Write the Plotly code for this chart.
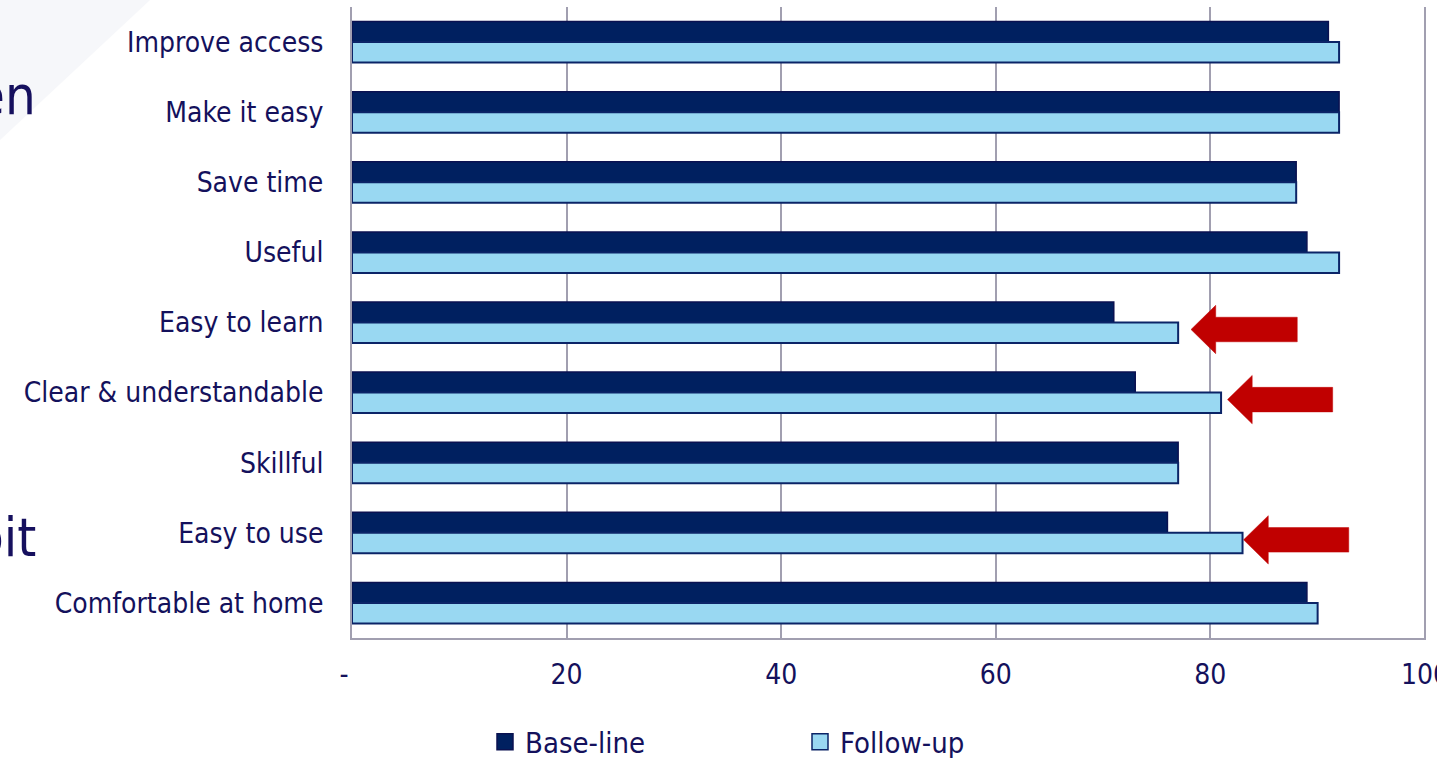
import plotly.graph_objects as go

# ---------------- data ----------------
categories = ["Improve access", "Make it easy", "Save time", "Useful", "Easy to learn",
              "Clear & understandable", "Skillful", "Easy to use", "Comfortable at home"]
baseline = [91, 92, 88, 89, 71, 73, 77, 76, 89]
followup = [92, 92, 88, 92, 77, 81, 77, 83, 90]
series_names = ["Base-line", "Follow-up"]
x_tick_values = [0, 20, 40, 60, 80, 100]
x_tick_labels = ["-", "20", "40", "60", "80", "100"]

# highlight arrows (value-axis extents)
arrow_categories = ["Easy to learn", "Clear & understandable", "Easy to use"]
arrow_tip = [78.2, 81.6, 83.1]
arrow_tail = [88.1, 91.4, 92.9]

# background slide text fragments
bg_texts = ["en", "bit"]

# ---------------- style ----------------
FONT = "DejaVu Sans Condensed, DejaVu Sans, Liberation Sans, sans-serif"
TXT = "#14115C"
GRID = "#A19FB0"
C_BASE = "#002060"
C_FOLLOW = "#99D8F2"
LINE_BASE = "#0A1150"
LINE_FOLLOW = "#0B2467"

W, H = 1437, 758
L, R, T, B = 352, 11, 7, 120
PW, PH = W - L - R, H - T - B


def px_to_paper_x(px):
    return (px - L) / PW


def px_to_paper_y(py):
    return (H - B - py) / PH


ypos = list(range(len(categories)))

fig = go.Figure()
for name, vals, fill, edge, ew in [(series_names[0], baseline, C_BASE, LINE_BASE, 1.5),
                                   (series_names[1], followup, C_FOLLOW, LINE_FOLLOW, 2)]:
    fig.add_trace(go.Bar(
        y=ypos, x=vals, orientation="h", name=name, legendgroup=name, showlegend=False,
        marker=dict(color=fill, line=dict(color=edge, width=ew)),
    ))
    # legend entry with a larger square swatch
    fig.add_trace(go.Scatter(
        x=[None], y=[None], mode="markers", name=name, legendgroup=name,
        marker=dict(symbol="square", size=18, color=fill, line=dict(color=edge, width=1.5)),
        hoverinfo="skip",
    ))

# arrows
shapes = []
head_len, head_half, shaft_half, dy = 2.3, 0.345, 0.175, 0.1
for cat, xt, xe in zip(arrow_categories, arrow_tip, arrow_tail):
    yc = categories.index(cat) + dy
    xh = xt + head_len
    path = (f"M {xt},{yc} L {xh},{yc - head_half} L {xh},{yc - shaft_half} "
            f"L {xe},{yc - shaft_half} L {xe},{yc + shaft_half} L {xh},{yc + shaft_half} "
            f"L {xh},{yc + head_half} Z")
    shapes.append(dict(type="path", xref="x", yref="y", path=path,
                       fillcolor="#C00000", line=dict(color="#C00000", width=0.5)))

# faint slide background gradient at top-left
bx = [px_to_paper_x(v) for v in (0, 150, 0)]
by = [px_to_paper_y(v) for v in (0, 0, 140)]
shapes.append(dict(type="path", xref="paper", yref="paper", layer="below",
                   path=f"M {bx[0]},{by[0]} L {bx[1]},{by[1]} L {bx[2]},{by[2]} Z",
                   fillcolor="#F6F7FA", line=dict(width=0)))

annotations = []
for txt, py in zip(bg_texts, (95, 537)):
    annotations.append(dict(text=txt, xref="paper", yref="paper",
                            x=px_to_paper_x(38), y=px_to_paper_y(py),
                            xanchor="right", yanchor="middle", showarrow=False,
                            font=dict(family=FONT, size=54, color="#16105E")))

tick_text = [t if t != "-" else t + "\u00a0\u00a0" for t in x_tick_labels]

fig.update_layout(
    width=W, height=H,
    margin=dict(l=L, r=R, t=T, b=B, autoexpand=False),
    paper_bgcolor="white", plot_bgcolor="white",
    barmode="group", bargap=0.415, bargroupgap=0,
    font=dict(family=FONT, size=28, color=TXT),
    shapes=shapes, annotations=annotations,
    legend=dict(orientation="h", xref="container", yref="container",
                x=485 / W, y=(H - 742) / H, xanchor="left", yanchor="middle",
                entrywidth=270, entrywidthmode="pixels",
                font=dict(family=FONT, size=29, color=TXT),
                bgcolor="rgba(0,0,0,0)", traceorder="normal", itemsizing="trace"),
    xaxis=dict(range=[0, 100.1], tickvals=x_tick_values, ticktext=tick_text,
               showgrid=True, gridcolor=GRID, gridwidth=2,
               showline=True, linecolor=GRID, linewidth=2, zeroline=False,
               ticks="outside", ticklen=10, tickcolor="rgba(0,0,0,0)",
               ticklabeloverflow="allow",
               tickfont=dict(family=FONT, size=28, color=TXT), automargin=False),
    yaxis=dict(range=[len(categories) - 0.5, -0.5], tickvals=ypos, ticktext=categories,
               showgrid=False, showline=True, linecolor=GRID, linewidth=2, zeroline=False,
               ticks="outside", ticklen=21, tickcolor="rgba(0,0,0,0)",
               tickfont=dict(family=FONT, size=28, color=TXT), automargin=False),
)

fig.write_html("out.html")
